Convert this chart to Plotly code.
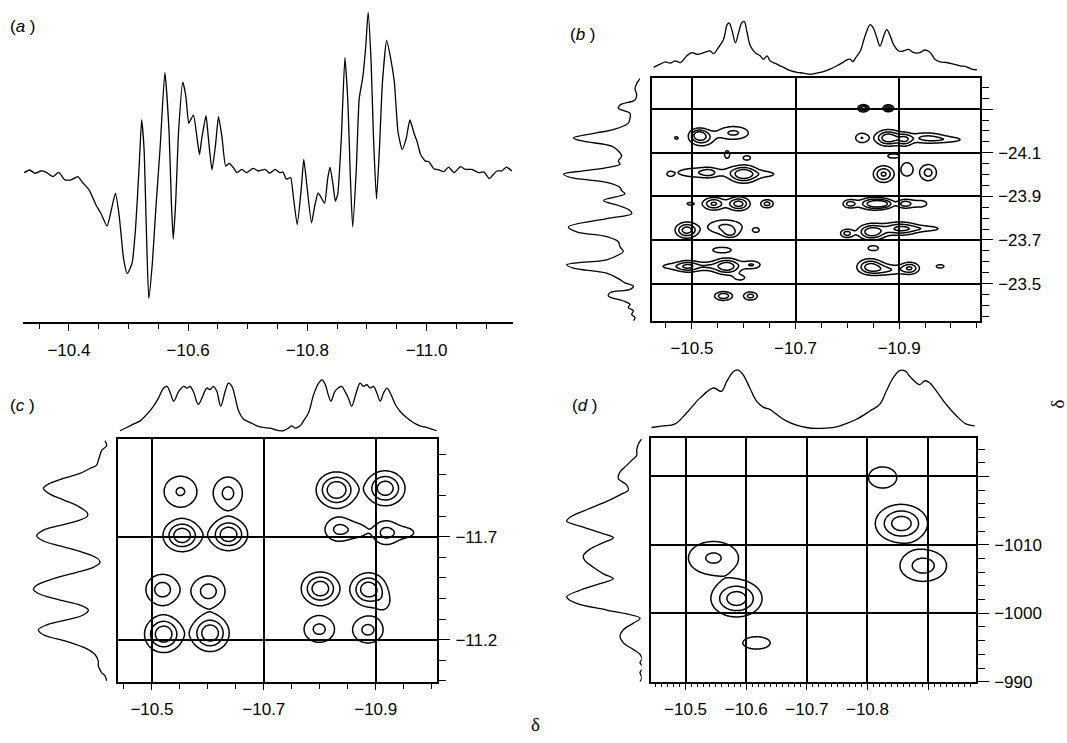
import numpy as np
import plotly.graph_objects as go

# ---------------- Panel (a): 1-D spectrum ----------------
a_ppm = [-10.325,-10.334,-10.343,-10.353,-10.362,-10.373,-10.383,-10.393,-10.404,-10.415,
         -10.423,-10.434,-10.446,-10.454,-10.464,-10.471,-10.478,-10.484,-10.492,-10.498,
         -10.506,-10.512,-10.518,-10.522,-10.526,-10.530,-10.534,-10.540,-10.546,-10.553,
         -10.561,-10.568,-10.572,-10.575,-10.579,-10.584,-10.591,-10.596,-10.601,-10.604,
         -10.609,-10.615,-10.619,-10.623,-10.630,-10.634,-10.640,-10.646,-10.651,-10.657,
         -10.663,-10.669,-10.676,-10.682,-10.690,-10.698,-10.709,-10.718,-10.729,-10.737,
         -10.746,-10.754,-10.759,-10.765,-10.772,-10.776,-10.783,-10.790,-10.794,-10.799,
         -10.807,-10.812,-10.818,-10.823,-10.829,-10.834,-10.838,-10.843,-10.847,-10.851,
         -10.857,-10.863,-10.868,-10.872,-10.876,-10.882,-10.887,-10.893,-10.898,-10.902,
         -10.907,-10.911,-10.916,-10.921,-10.926,-10.933,-10.940,-10.946,-10.952,-10.959,
         -10.966,-10.972,-10.979,-10.984,-10.990,-10.998,-11.004,-11.012,-11.021,-11.029,
         -11.037,-11.046,-11.057,-11.065,-11.076,-11.087,-11.096,-11.105,-11.109,-11.118,
         -11.126,-11.134,-11.143]
a_int = [-0.5,0.3,-0.7,0,-0.4,-1.7,-0.4,-2.7,-2.7,-1.7,
         -3.5,-5.8,-10.5,-13,-16.8,-12,-6.8,-13,-27,-31.2,
         -28,-17,2,15.5,7,-18,-38.8,-28,-11,7,
         30,12,-10,-20.7,-10,12,27,23,14.5,15.5,
         17,10,5,10,16.8,10,0.3,8,16.5,10,
         1.5,2.3,1,-0.5,0.5,-0.5,0.8,0,0.5,-0.7,
         0.5,-0.5,-0.3,-2.5,-2,-7,-16.3,-5,3.5,-4,
         -15.8,-11,-6.7,-8,-9.8,-2.5,1.2,-4,-9.2,-7,
         10,34.5,21,-1,-17,0,22,28.5,38,48.2,
         33,10,-8.5,7,27,39.7,34,27,12,6.5,
         10,15.5,11.5,9,5,3,2.8,0.7,0.3,-0.2,
         1.2,-0.5,1.3,0.5,0.5,-0.5,-0.3,-2.3,-1.7,0,
         0,1.2,0]
a_ticks = [-10.4, -10.6, -10.8, -11.0]
a_ticktext = ["\u221210.4", "\u221210.6", "\u221210.8", "\u221211.0"]

# ---------------- Panel (b) ----------------
b_top_ppm = [-10.426,-10.439,-10.449,-10.458,-10.468,-10.478,-10.490,-10.500,-10.510,-10.523,
             -10.535,-10.542,-10.551,-10.561,-10.568,-10.572,-10.577,-10.584,-10.590,-10.596,
             -10.601,-10.606,-10.613,-10.622,-10.632,-10.638,-10.645,-10.651,-10.664,-10.677,
             -10.690,-10.703,-10.715,-10.728,-10.741,-10.754,-10.767,-10.780,-10.793,-10.799,
             -10.805,-10.811,-10.815,-10.825,-10.834,-10.844,-10.850,-10.857,-10.863,-10.870,
             -10.876,-10.883,-10.889,-10.899,-10.908,-10.918,-10.928,-10.940,-10.950,-10.960,
             -10.969,-10.979,-10.992,-11.005,-11.018,-11.030,-11.040,-11.050]
b_top_int = [2.5,3.5,4.2,3.8,4.5,4,6,7,6.5,7,
             7.5,6.7,8.5,11,15.5,16,14,10,13,16,
             16.5,13.5,9,7,6,5,6,4.5,3.5,2.5,
             1.5,1,0.8,0.4,0.8,1.2,2,3,4.2,4.8,
             5,4.3,5.2,7.5,12,15.5,14.5,11.5,9,12,
             14,12,9.5,7.5,7.5,8,7,7,7.8,7,
             5,4.2,4,3.5,3,2.7,2,1.8]
b_side_val = [-24.440,-24.417,-24.395,-24.364,-24.342,-24.319,-24.304,-24.281,-24.259,-24.236,
              -24.206,-24.191,-24.168,-24.153,-24.130,-24.108,-24.085,-24.062,-24.047,-24.032,
              -24.017,-24.002,-23.987,-23.964,-23.941,-23.926,-23.911,-23.881,-23.858,-23.835,
              -23.820,-23.798,-23.760,-23.737,-23.715,-23.692,-23.669,-23.647,-23.631,-23.609,
              -23.586,-23.571,-23.548,-23.518,-23.503,-23.488,-23.473,-23.458,-23.443,-23.420,
              -23.405,-23.390,-23.375,-23.359,-23.344,-23.329]
b_side_int = [0,1,1.5,1,1.5,6,6.5,3,3,3.5,
              8,13,20,17,8.5,6.5,5.5,6.5,6,10,
              17,23,21,10,6,5.5,4.5,11,6.5,3,
              2.5,10,21.5,19,10,6.5,6,5,6.5,10,
              22,20,10,6,4.5,2,3,9,9.5,5,
              3,3.5,2,2.5,1.5,2]
# cross peaks: centre (ppm), centre (y), amplitude, widths
b_pk_x = [-10.831,-10.879,
          -10.470,-10.519,-10.512,-10.580,-10.568,-10.828,-10.879,-10.911,-10.953,-10.998,
          -10.458,-10.516,-10.532,-10.600,-10.645,-10.606,-10.870,-10.915,-10.956,-10.889,
          -10.497,-10.542,-10.590,-10.645,-10.805,-10.850,-10.872,-10.911,-10.940,
          -10.490,-10.564,-10.574,-10.624,-10.799,-10.847,-10.902,-10.953,
          -10.558,-10.850,
          -10.461,-10.494,-10.529,-10.567,-10.616,-10.593,-10.844,-10.876,-10.921,-10.979,
          -10.561,-10.613]
b_pk_y = [-24.304,-24.304,
          -24.168,-24.168,-24.185,-24.191,-24.092,-24.168,-24.168,-24.160,-24.168,-24.160,
          -24.002,-24.009,-24.009,-24.002,-24.002,-24.077,-24.002,-24.024,-24.009,-24.085,
          -23.866,-23.866,-23.866,-23.866,-23.866,-23.866,-23.866,-23.866,-23.866,
          -23.745,-23.760,-23.730,-23.745,-23.730,-23.737,-23.752,-23.752,
          -23.654,-23.662,
          -23.579,-23.579,-23.579,-23.579,-23.586,-23.526,-23.579,-23.563,-23.571,-23.579,
          -23.443,-23.443]
b_pk_a = [1.0,0.9,
          0.3,0.7,0.5,0.55,0.3,0.5,1.0,0.6,0.55,0.3,
          0.3,0.45,0.3,1.0,0.3,0.35,0.8,0.45,0.6,0.35,
          0.3,0.8,0.9,0.6,0.6,0.9,0.5,0.6,0.35,
          0.9,0.55,0.4,0.35,0.6,1.0,0.8,0.35,
          0.45,0.4,
          0.3,0.7,0.35,1.0,0.5,0.3,0.8,0.5,0.7,0.35,
          0.7,0.6]
b_pk_sx = [0.0065,0.0065,
           0.005,0.016,0.010,0.023,0.008,0.010,0.016,0.010,0.026,0.026,
           0.005,0.039,0.010,0.018,0.020,0.008,0.013,0.010,0.012,0.013,
           0.010,0.014,0.014,0.009,0.010,0.018,0.013,0.010,0.016,
           0.014,0.026,0.010,0.0065,0.009,0.017,0.023,0.026,
           0.016,0.010,
           0.026,0.016,0.013,0.018,0.013,0.013,0.016,0.026,0.012,0.009,
           0.012,0.010]
b_pk_sy = [0.010,0.010,
           0.009,0.025,0.017,0.023,0.028,0.018,0.023,0.020,0.018,0.011,
           0.009,0.019,0.014,0.025,0.014,0.011,0.025,0.028,0.028,0.011,
           0.010,0.019,0.020,0.014,0.014,0.018,0.014,0.014,0.018,
           0.023,0.025,0.014,0.011,0.014,0.023,0.020,0.011,
           0.011,0.011,
           0.014,0.018,0.014,0.023,0.014,0.014,0.023,0.018,0.018,0.009,
           0.014,0.014]
b_xticks = [-10.5, -10.7, -10.9]
b_xtext = ["\u221210.5", "\u221210.7", "\u221210.9"]
b_yticks = [-24.3, -24.1, -23.9, -23.7, -23.5]
b_ytext = ["", "\u221224.1", "\u221223.9", "\u221223.7", "\u221223.5"]

# ---------------- Panel (c) ----------------
c_top_ppm = [-10.443,-10.455,-10.467,-10.479,-10.491,-10.503,-10.512,-10.521,-10.527,-10.533,
             -10.539,-10.548,-10.557,-10.563,-10.568,-10.574,-10.583,-10.592,-10.598,-10.604,
             -10.610,-10.616,-10.623,-10.631,-10.637,-10.643,-10.649,-10.655,-10.664,-10.676,
             -10.688,-10.699,-10.711,-10.723,-10.735,-10.744,-10.750,-10.756,-10.765,-10.771,
             -10.780,-10.789,-10.798,-10.804,-10.810,-10.815,-10.820,-10.827,-10.833,-10.839,
             -10.845,-10.851,-10.857,-10.865,-10.872,-10.878,-10.884,-10.890,-10.896,-10.902,
             -10.908,-10.914,-10.920,-10.926,-10.935,-10.943,-10.955,-10.967,-10.979,-10.991,
             -11.000,-11.009]
c_top_int = [0.5,1.5,2.5,3.5,5.5,8,10.5,13.5,14,12,
             9.5,12.5,14,13.5,14,12.5,8.5,11.5,13.5,13,
             14,12.5,8,12.5,15,14,10.5,6.5,4,3,
             2,1.5,1.3,0.7,0.5,1.3,2,1.3,2,3.5,
             6,11.5,15,16,14.5,11.5,9.5,12.5,13.5,14,
             12.5,10.5,8,12,15,14,14.5,13.5,14,12,
             9.5,12,13.5,12,8.5,6.5,4.5,3,2,1.5,
             1,0.5]
c_side_val = [-12.166,-12.142,-12.119,-12.095,-12.071,-12.047,-12.031,-12.007,-11.983,-11.959,
              -11.935,-11.911,-11.879,-11.847,-11.815,-11.799,-11.775,-11.751,-11.727,-11.703,
              -11.679,-11.655,-11.623,-11.591,-11.575,-11.551,-11.527,-11.496,-11.464,-11.444,
              -11.424,-11.392,-11.368,-11.344,-11.320,-11.296,-11.272,-11.248,-11.224,-11.192,
              -11.160,-11.128,-11.096,-11.072,-11.056,-11.040,-11.024,-11.000]
c_side_int = [1,0.5,2,2.5,3,3.5,5.5,8.5,13.5,17.5,
              19.5,18,13.5,9,6.3,6.3,9.5,15.5,20,21.5,
              19.5,14.5,7.5,3,2.5,4.5,9.5,16.5,21.5,22.5,
              21,14.5,8.5,6,7.5,12.5,18.5,21,19.5,12.5,
              7,4,3,3,2.5,2,1,0.5]
c_pk_x = [-10.551,-10.554,-10.636,-10.637,-10.830,-10.917,-10.835,-10.870,-10.918,-10.955,
          -10.519,-10.601,-10.521,-10.604,-10.801,-10.887,-10.915,-10.799,-10.886]
c_pk_y = [-11.919,-11.706,-11.911,-11.711,-11.927,-11.935,-11.735,-11.730,-11.719,-11.720,
          -11.443,-11.435,-11.227,-11.232,-11.448,-11.444,-11.380,-11.251,-11.248]
c_pk_a = [0.5,1.0,0.55,1.0,1.05,0.95,0.55,0.25,0.55,0.25,
          0.6,0.6,1.0,1.0,1.0,1.0,0.22,0.55,0.55]
c_pk_sx = [0.0215,0.019,0.018,0.019,0.020,0.020,0.018,0.014,0.016,0.018,
           0.020,0.020,0.019,0.019,0.019,0.018,0.012,0.019,0.019]
c_pk_sy = [0.055,0.044,0.055,0.044,0.048,0.048,0.04,0.03,0.04,0.028,
           0.05,0.05,0.05,0.05,0.045,0.045,0.04,0.045,0.045]
c_xticks = [-10.5, -10.7, -10.9]
c_xtext = ["\u221210.5", "\u221210.7", "\u221210.9"]
c_yticks = [-11.7, -11.2]
c_ytext = ["\u221211.7", "\u221211.2"]

# ---------------- Panel (d) ----------------
d_top_ppm = [-10.444,-10.463,-10.482,-10.502,-10.524,-10.546,-10.559,-10.568,-10.579,-10.586,
             -10.595,-10.606,-10.617,-10.628,-10.639,-10.650,-10.666,-10.683,-10.699,-10.716,
             -10.732,-10.749,-10.765,-10.782,-10.804,-10.820,-10.831,-10.842,-10.853,-10.862,
             -10.870,-10.881,-10.886,-10.895,-10.903,-10.914,-10.930,-10.947,-10.963,-10.977]
d_top_int = [0.5,1,1.5,5,9.5,12.5,11.5,14.5,17.5,18,
             16.5,12.5,8.5,6.7,6,4.5,2.5,1.2,0.5,0.2,
             0.3,0.7,1.7,3,5.5,7.5,11.5,15.5,17.8,17.7,
             16,14,13.5,14.7,14,11.5,7.5,4,1.5,1]
d_side_val = [-1025.48,-1024.76,-1023.80,-1023.08,-1022.36,-1021.63,-1020.67,-1019.71,-1018.75,-1018.03,
              -1017.31,-1016.35,-1015.14,-1014.18,-1013.46,-1012.74,-1011.78,-1011.06,-1010.34,-1009.38,
              -1008.41,-1007.69,-1006.73,-1005.77,-1005.05,-1004.33,-1003.37,-1002.40,-1001.44,-1000.48,
              -999.28,-998.56,-997.60,-996.63,-995.67,-994.71,-993.99,-993.27,-992.79,-992.07,
              -991.35,-990.63,-990.0]
d_side_int = [0,1,1.5,1.5,3,4.5,6.5,7,4.5,4,
              6.5,10.5,16.5,21,22.5,18.5,12.5,8.5,11.5,15.5,
              17.5,17,14.5,11.5,8.5,12.5,18.5,22.5,19.5,10.5,
              0.5,2.5,5.5,6.5,5.5,2.5,0.5,0,0.5,-0.5,
              0.5,0,0.5]
d_pk_x = [-10.825,-10.856,-10.892,-10.546,-10.584,-10.617]
d_pk_y = [-1019.86,-1013.13,-1006.97,-1008.08,-1002.16,-995.67]
d_pk_a = [0.35,1.0,0.65,0.55,1.0,0.3]
d_pk_sx = [0.022,0.024,0.025,0.029,0.0235,0.025]
d_pk_sy = [1.45,1.55,1.5,1.7,1.5,1.0]
d_xticks = [-10.5, -10.6, -10.7, -10.8, -10.9]
d_xtext = ["\u221210.5", "\u221210.6", "\u221210.7", "\u221210.8", ""]
d_yticks = [-1020, -1010, -1000, -990]
d_ytext = ["", "\u22121010", "\u22121000", "\u2212990"]

# ---------------- layout helpers ----------------
W, H = 1067, 743
FONT = dict(family="Liberation Sans, Arial, sans-serif", size=17, color="black")


def hx(a, b):
    return [a / W, b / W]


def vy(top, bottom):
    return [1 - bottom / H, 1 - top / H]


def field(xr, yr, px, py, amp, sx, sy, n=320):
    xs = np.linspace(min(xr), max(xr), n)
    ys = np.linspace(min(yr), max(yr), n)
    X, Y = np.meshgrid(xs, ys)
    Z = np.zeros_like(X)
    for x0, y0, A, s1, s2 in zip(px, py, amp, sx, sy):
        Z += A * np.exp(-((X - x0) ** 2 / (2 * s1 ** 2) + (Y - y0) ** 2 / (2 * s2 ** 2)))
    return xs, ys, Z


fig = go.Figure()
LINE = dict(color="black", width=1.3)

# panel a
fig.add_trace(go.Scatter(x=a_ppm, y=a_int, mode="lines",
                         line=dict(color="black", width=1.3, shape="spline", smoothing=0.5),
                         xaxis="x", yaxis="y"))

panels = [
    dict(c=2, t=3, s=4,
         xdom=hx(652, 980), ydom=vy(79, 325), xr=[-10.423, -11.056], yr=[-23.33, -24.443],
         tdom=vy(20, 76.7), trange=[0, 17], sdom=hx(561.7, 640), srange=[23.5, 0],
         top=(b_top_ppm, b_top_int), side=(b_side_val, b_side_int),
         pk=(b_pk_x, b_pk_y, b_pk_a, b_pk_sx, b_pk_sy), lev=(0.25, 0.8, 0.25),
         xt=(b_xticks, b_xtext), yt=(b_yticks, b_ytext), xminor=0.05, yminor=0.05, xminlen=6),
    dict(c=5, t=6, s=7,
         xdom=hx(118.3, 437.3), ydom=vy(445, 691), xr=[-10.440, -11.010], yr=[-10.996, -12.174],
         tdom=vy(380, 438.3), trange=[0, 17.5], sdom=hx(31.7, 108.3), srange=[23, 0],
         top=(c_top_ppm, c_top_int), side=(c_side_val, c_side_int),
         pk=(c_pk_x, c_pk_y, c_pk_a, c_pk_sx, c_pk_sy), lev=(0.2, 0.9, 0.27),
         xt=(c_xticks, c_xtext), yt=(c_yticks, c_ytext), xminor=0.05, yminor=0.1, xminlen=6),
    dict(c=8, t=9, s=10,
         xdom=hx(651, 976), ydom=vy(444.3, 691), xr=[-10.443, -10.979], yr=[-990.0, -1025.58],
         tdom=vy(373.3, 435), trange=[0, 18.5], sdom=hx(563.3, 641.7), srange=[23.5, 0],
         top=(d_top_ppm, d_top_int), side=(d_side_val, d_side_int),
         pk=(d_pk_x, d_pk_y, d_pk_a, d_pk_sx, d_pk_sy), lev=(0.2, 0.85, 0.3),
         xt=(d_xticks, d_xtext), yt=(d_yticks, d_ytext), xminor=0.01, yminor=2, xminlen=4),
]

layout_axes = {}
layout_axes["xaxis"] = dict(domain=hx(23, 513), range=[-10.323, -11.145], anchor="y",
                            showline=True, linecolor="black", linewidth=1.5, showgrid=False,
                            zeroline=False, ticks="outside", ticklen=7, tickwidth=1.3,
                            tickcolor="black", tickmode="array", tickvals=a_ticks,
                            ticktext=a_ticktext, tickfont=FONT, ticklabelstandoff=5,
                            minor=dict(dtick=0.05, tick0=-10.4, ticks="outside", ticklen=5,
                                       tickwidth=1.2, tickcolor="black", showgrid=False))
layout_axes["yaxis"] = dict(domain=vy(8, 326.5), range=[-45.96, 49.6], anchor="x", visible=False)


def nm(prefix, i):
    return prefix + ("" if i == 1 else str(i))


for p in panels:
    c, t, s = p["c"], p["t"], p["s"]
    xs, ys, Z = field(p["xr"], p["yr"], *p["pk"])
    lo, hi, step = p["lev"]
    fig.add_trace(go.Contour(x=xs, y=ys, z=Z, xaxis=nm("x", c), yaxis=nm("y", c),
                             contours=dict(coloring="lines", start=lo, end=hi, size=step),
                             colorscale=[[0, "black"], [1, "black"]], showscale=False,
                             line=dict(width=1.5, smoothing=1), hoverinfo="skip"))
    fig.add_trace(go.Scatter(x=p["top"][0], y=p["top"][1], mode="lines", line=LINE,
                             line_shape="spline", xaxis=nm("x", t), yaxis=nm("y", t)))
    fig.add_trace(go.Scatter(x=p["side"][1], y=p["side"][0], mode="lines", line=LINE,
                             line_shape="spline", xaxis=nm("x", s), yaxis=nm("y", s)))
    layout_axes[nm("xaxis", c)] = dict(
        domain=p["xdom"], range=p["xr"], anchor=nm("y", c), showline=True, mirror=True,
        linecolor="black", linewidth=1.5, showgrid=True, gridcolor="black", gridwidth=1.5,
        zeroline=False, ticks="outside", ticklen=7, tickwidth=1.3, tickcolor="black",
        tickmode="array", tickvals=p["xt"][0], ticktext=p["xt"][1], tickfont=FONT,
        ticklabelstandoff=4,
        minor=dict(dtick=p["xminor"], tick0=p["xt"][0][0], ticks="outside", ticklen=p["xminlen"],
                   tickwidth=1.2, tickcolor="black", showgrid=False))
    layout_axes[nm("yaxis", c)] = dict(
        domain=p["ydom"], range=p["yr"], anchor=nm("x", c), side="right", showline=True,
        mirror=True, linecolor="black", linewidth=1.5, showgrid=True, gridcolor="black",
        gridwidth=1.5, zeroline=False, ticks="outside", ticklen=11, tickwidth=1.3,
        tickcolor="black", tickmode="array", tickvals=p["yt"][0], ticktext=p["yt"][1],
        tickfont=FONT, ticklabelstandoff=2,
        minor=dict(dtick=p["yminor"], tick0=p["yt"][0][-1], ticks="outside", ticklen=7,
                   tickwidth=1.2, tickcolor="black", showgrid=False))
    layout_axes[nm("xaxis", t)] = dict(domain=p["xdom"], range=p["xr"], anchor=nm("y", t), visible=False)
    layout_axes[nm("yaxis", t)] = dict(domain=p["tdom"], range=p["trange"], anchor=nm("x", t), visible=False)
    layout_axes[nm("xaxis", s)] = dict(domain=p["sdom"], range=p["srange"], anchor=nm("y", s), visible=False)
    layout_axes[nm("yaxis", s)] = dict(domain=p["ydom"], range=p["yr"], anchor=nm("x", s), visible=False)

annos = [
    dict(text="(<i>a</i> )", x=8 / W, y=1 - 27 / H),
    dict(text="(<i>b</i> )", x=568 / W, y=1 - 35 / H),
    dict(text="(<i>c</i> )", x=8 / W, y=1 - 411 / H),
    dict(text="(<i>d</i> )", x=570 / W, y=1 - 411 / H),
]
annotations = []
for a in annos:
    annotations.append(dict(text=a["text"], x=a["x"], y=a["y"], xref="paper", yref="paper",
                            xanchor="left", yanchor="middle", showarrow=False, font=FONT))
annotations.append(dict(text="\u03b4", x=535 / W, y=1 - 734 / H, xref="paper", yref="paper",
                        showarrow=False, xanchor="center", yanchor="middle",
                        font=dict(family="Liberation Serif, DejaVu Serif, serif", size=19, color="black")))
annotations.append(dict(text="\u03b4", x=1057 / W, y=1 - 410 / H, xref="paper", yref="paper",
                        showarrow=False, xanchor="center", yanchor="middle", textangle=-90,
                        font=dict(family="Liberation Serif, DejaVu Serif, serif", size=19, color="black")))

fig.update_layout(width=W, height=H, margin=dict(l=0, r=0, t=0, b=0),
                  paper_bgcolor="white", plot_bgcolor="rgba(0,0,0,0)", showlegend=False,
                  font=FONT, annotations=annotations, **layout_axes)

fig.write_html("out.html", config={"displayModeBar": False},
               post_script="document.body.style.margin='0px';document.body.style.overflow='hidden';")
